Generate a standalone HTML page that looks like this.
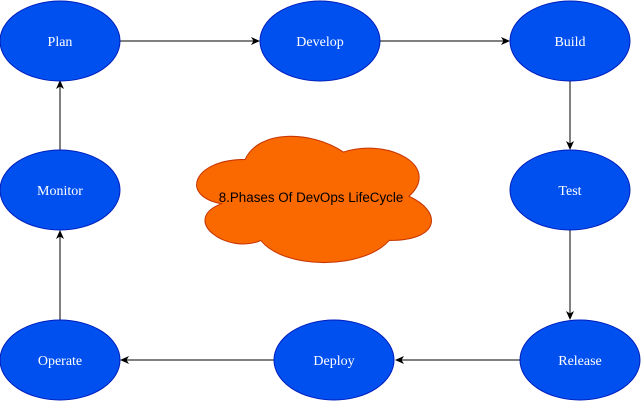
<!DOCTYPE html>
<html><head><style>html,body{margin:0;padding:0;background:#fff;}svg{display:block;}</style></head>
<body>
<svg width="641" height="401" viewBox="0 0 641 401" xmlns="http://www.w3.org/2000/svg">
<defs><marker id="a" markerWidth="10" markerHeight="10" refX="8" refY="5" orient="auto" markerUnits="userSpaceOnUse"><path d="M0,1 L9,5 L0,9 L2.5,5 Z" fill="#000"/></marker></defs>
<g stroke="#000" stroke-width="1" fill="none" marker-end="url(#a)">
<line x1="120" y1="41" x2="259" y2="41"/>
<line x1="380" y1="41" x2="509" y2="41"/>
<line x1="570" y1="81" x2="570" y2="149"/>
<line x1="570" y1="230" x2="570" y2="319"/>
<line x1="520" y1="360" x2="396" y2="360"/>
<line x1="274" y1="360" x2="121" y2="360"/>
<line x1="60" y1="320" x2="60" y2="231"/>
<line x1="60" y1="150" x2="60" y2="81"/>
</g>
<g fill="#0050ef" stroke="#001dbc" stroke-width="1">
<ellipse cx="60" cy="41" rx="60" ry="40"/>
<ellipse cx="320" cy="41" rx="60" ry="40"/>
<ellipse cx="570" cy="41" rx="60" ry="40"/>
<ellipse cx="570" cy="190" rx="60" ry="40"/>
<ellipse cx="580" cy="360" rx="60" ry="40"/>
<ellipse cx="334" cy="360" rx="60" ry="40"/>
<ellipse cx="60" cy="360" rx="60" ry="40"/>
<ellipse cx="60" cy="190" rx="60" ry="40"/>
</g>
<g fill="#fff" font-family="Liberation Serif, serif" font-size="14" text-anchor="middle">
<text x="60" y="46">Plan</text>
<text x="320" y="46">Develop</text>
<text x="570" y="46">Build</text>
<text x="570" y="195">Test</text>
<text x="580" y="365">Release</text>
<text x="334" y="365">Deploy</text>
<text x="60" y="365">Operate</text>
<text x="60" y="195">Monitor</text>
</g>
<g transform="translate(314,198) scale(1.12,1.16) translate(-317,-200)">
<path d="M255.5,166.75 C208.7,166.75 197,198.5 234.4,204.9 C197,218.8 239.1,249.3 269.5,236.6 C290.6,262 360.8,262 384.2,236.6 C431,236.6 431,211.2 401.75,198.5 C431,173.1 384.2,147.7 343.25,160.4 C314,141.35 267.2,141.35 255.5,166.75 Z" fill="#fa6800" stroke="#c73500" stroke-width="0.9"/>
</g>
<text x="311" y="202" font-family="Liberation Sans, sans-serif" font-size="13.4" text-anchor="middle" fill="#000">8.Phases Of DevOps LifeCycle</text>
</svg>
</body></html>
